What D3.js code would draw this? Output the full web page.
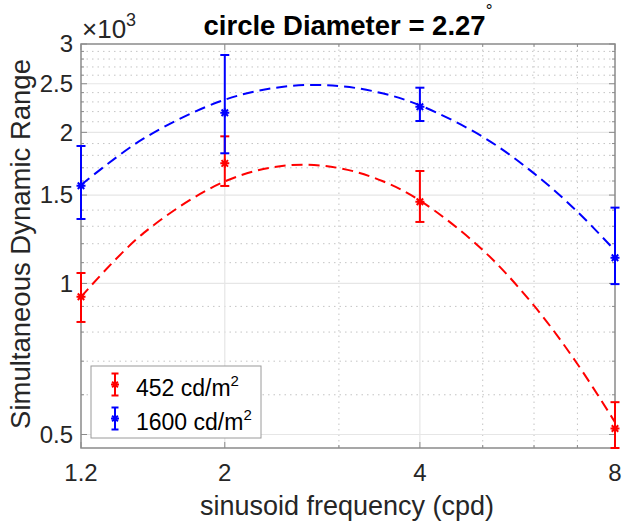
<!DOCTYPE html>
<html><head><meta charset="utf-8">
<script src="https://cdn.jsdelivr.net/npm/d3@7"></script>
<style>
body{margin:0;background:#fff}
svg{display:block}
text{font-family:"Liberation Sans",Arial,Helvetica,sans-serif;fill:#262626}
</style>
</head><body>
<svg id="chart" width="622" height="522"></svg>
<script>
// ---- data (values x1) ----
const freqs = [1.2, 2, 4, 8];
const mean452 = [941, 1735, 1455, 514];
const low452 = [838, 1564, 1326, 470];
const high452 = [1049, 1964, 1675, 580];
const mean1600 = [1566, 2189, 2250, 1125];
const low1600 = [1344, 1817, 2107, 997];
const high1600 = [1879, 2852, 2455, 1416];

// fitted curves
const fitFreqs = [1.2, 1.5, 2, 2.5, 3, 3.5, 4, 5, 6, 7, 8];
const fit452 = [940, 1261, 1597, 1719, 1698, 1600, 1463, 1166, 903, 691, 529];
const fit1600 = [1571, 1945, 2323, 2471, 2474, 2393, 2264, 1960, 1657, 1390, 1163];

const xTicks = [1.2, 2, 4, 8];
const xTickLabels = ["1.2", "2", "4", "8"];
const xMinorTicks = [3, 5, 6, 7];
const yTicks = [500, 1000, 1500, 2000, 2500, 3000];
const yTickLabels = ["0.5", "1", "1.5", "2", "2.5", "3"];
const yMinorTicks = [600, 700, 800, 900, 1100, 1200, 1300, 1400, 1600, 1700, 1800, 1900,
                     2100, 2200, 2300, 2400, 2600, 2700, 2800, 2900];
const seriesNames = ["452 cd/m", "1600 cd/m"];
const seriesColors = ["#ff0000", "#0000ff"];

// ---- layout ----
const L = 81, R = 615, T = 44, B = 448;
const svg = d3.select("#chart");
const x = d3.scaleLog().domain([1.2, 8]).range([L, R]);
const y = d3.scaleLog().domain([470, 3000]).range([B, T]);
const axisColor = "#8a8a8a";

// grid: minor dotted
const g = svg.append("g");
g.selectAll("line.ymin").data(yMinorTicks).join("line")
  .attr("x1", L).attr("x2", R).attr("y1", d => y(d)).attr("y2", d => y(d))
  .attr("stroke", "#c4c4c4").attr("stroke-width", 1).attr("stroke-dasharray", "1.5,4");
g.selectAll("line.xmin").data(xMinorTicks).join("line")
  .attr("y1", T).attr("y2", B).attr("x1", d => x(d)).attr("x2", d => x(d))
  .attr("stroke", "#c4c4c4").attr("stroke-width", 1).attr("stroke-dasharray", "1.5,4");
// major solid
g.selectAll("line.ymaj").data(yTicks.filter(d => d < 3000)).join("line")
  .attr("x1", L).attr("x2", R).attr("y1", d => y(d)).attr("y2", d => y(d))
  .attr("stroke", "#e6e6e6").attr("stroke-width", 1.2);
g.selectAll("line.xmaj").data(xTicks.filter(d => d > 1.2 && d < 8)).join("line")
  .attr("y1", T).attr("y2", B).attr("x1", d => x(d)).attr("x2", d => x(d))
  .attr("stroke", "#e6e6e6").attr("stroke-width", 1.2);

// axes (ticks inward on all sides)
const ax = svg.append("g");
const tickLine = (sel, x1, y1, x2, y2) => sel.append("line").attr("x1", x1).attr("y1", y1)
  .attr("x2", x2).attr("y2", y2).attr("stroke", axisColor).attr("stroke-width", 1);
xTicks.forEach(v => { tickLine(ax, x(v), B, x(v), B - 6); tickLine(ax, x(v), T, x(v), T + 6); });
xMinorTicks.forEach(v => { tickLine(ax, x(v), B, x(v), B - 3); tickLine(ax, x(v), T, x(v), T + 3); });
yTicks.forEach(v => { tickLine(ax, L, y(v), L + 6, y(v)); tickLine(ax, R, y(v), R - 6, y(v)); });
yMinorTicks.forEach(v => { tickLine(ax, L, y(v), L + 3, y(v)); tickLine(ax, R, y(v), R - 3, y(v)); });
ax.append("rect").attr("x", L).attr("y", T).attr("width", R - L).attr("height", B - T)
  .attr("fill", "none").attr("stroke", axisColor).attr("stroke-width", 1.5);

// tick labels
svg.append("g").selectAll("text").data(xTicks).join("text")
  .attr("x", d => x(d)).attr("y", 481).attr("text-anchor", "middle")
  .attr("font-size", 24).text((d, i) => xTickLabels[i]);
svg.append("g").selectAll("text").data(yTicks).join("text")
  .attr("x", 73).attr("y", d => y(d)).attr("dy", "0.35em").attr("text-anchor", "end")
  .attr("font-size", 24).text((d, i) => yTickLabels[i]);

// exponent label
const ex = svg.append("text").attr("x", 82).attr("y", 38).attr("font-size", 26);
ex.append("tspan").text("\u00d710");
ex.append("tspan").attr("font-size", 18).attr("dy", -12).text("3");

// axis labels
svg.append("text").attr("x", 347).attr("y", 515).attr("text-anchor", "middle")
  .attr("font-size", 27).text("sinusoid frequency (cpd)");
svg.append("text").attr("transform", "translate(29.5,244) rotate(-90)").attr("text-anchor", "middle")
  .attr("font-size", 27.5).text("Simultaneous Dynamic Range");

// title
const tt = svg.append("text").attr("x", 348).attr("y", 35).attr("text-anchor", "middle")
  .attr("font-size", 27.5).attr("font-weight", "bold").style("fill", "#000");
tt.append("tspan").text("circle Diameter = 2.27");
tt.append("tspan").attr("font-size", 17).attr("font-weight", "normal").attr("dy", -19).text("\u00b0");

// fit curves
const line = d3.line().x(d => x(d[0])).y(d => y(d[1])).curve(d3.curveCatmullRom);
[fit452, fit1600].forEach((fit, s) => {
  svg.append("path").datum(fitFreqs.map((f, i) => [f, fit[i]]))
    .attr("d", line).attr("fill", "none").attr("stroke", seriesColors[s])
    .attr("stroke-width", 2).attr("stroke-dasharray", "11,6");
});

// asterisk marker
function asterisk(sel, cx, cy, r, color) {
  const d = r * 0.72;
  const p = `M${cx - r},${cy}L${cx + r},${cy}M${cx},${cy - r}L${cx},${cy + r}` +
            `M${cx - d},${cy - d}L${cx + d},${cy + d}M${cx - d},${cy + d}L${cx + d},${cy - d}`;
  sel.append("path").attr("d", p).attr("stroke", color).attr("stroke-width", 2).attr("fill", "none");
}

// error bars
const series = [
  {mean: mean452, low: low452, high: high452},
  {mean: mean1600, low: low1600, high: high1600}
];
series.forEach((s, k) => {
  const c = seriesColors[k];
  const eg = svg.append("g").attr("stroke", c).attr("stroke-width", 2);
  freqs.forEach((f, i) => {
    const cx = x(f);
    eg.append("line").attr("x1", cx).attr("x2", cx).attr("y1", y(s.low[i])).attr("y2", y(s.high[i]));
    eg.append("line").attr("x1", cx - 4.5).attr("x2", cx + 4.5).attr("y1", y(s.low[i])).attr("y2", y(s.low[i]));
    eg.append("line").attr("x1", cx - 4.5).attr("x2", cx + 4.5).attr("y1", y(s.high[i])).attr("y2", y(s.high[i]));
    asterisk(svg, cx, y(s.mean[i]), 4.5, c);
  });
});

// legend
const lg = svg.append("g");
lg.append("rect").attr("x", 91).attr("y", 366).attr("width", 170).attr("height", 72)
  .attr("fill", "#fff").attr("stroke", "#9a9a9a").attr("stroke-width", 1);
seriesNames.forEach((name, i) => {
  const cy = 384.5 + i * 34, cx = 115, c = seriesColors[i];
  const eg = lg.append("g").attr("stroke", c).attr("stroke-width", 2);
  eg.append("line").attr("x1", cx).attr("x2", cx).attr("y1", cy - 11).attr("y2", cy + 11);
  eg.append("line").attr("x1", cx - 3.5).attr("x2", cx + 3.5).attr("y1", cy - 11).attr("y2", cy - 11);
  eg.append("line").attr("x1", cx - 3.5).attr("x2", cx + 3.5).attr("y1", cy + 11).attr("y2", cy + 11);
  asterisk(lg, cx, cy, 4, c);
  const t = lg.append("text").attr("x", 136).attr("y", cy + 11.5).attr("font-size", 23).style("fill", "#000");
  t.append("tspan").text(name);
  t.append("tspan").attr("font-size", 15).attr("dy", -10).text("2");
});
</script>
</body></html>
